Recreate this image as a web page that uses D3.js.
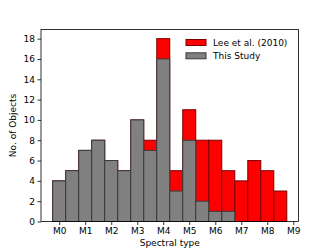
<!DOCTYPE html>
<html lang="en">
<head>
<meta charset="UTF-8">
<title>Spectral type histogram</title>
<script src="https://d3js.org/d3.v7.min.js"></script>
<style>
    body { margin: 0; background: #fff; }
    svg { font-family: "DejaVu Sans", sans-serif; }
</style>
</head>
<body>
<svg id="chart" width="332" height="249"></svg>
<script>
    // bin centres in subtypes (M0 = 0), width 0.5
    const bins = [0, 0.5, 1, 1.5, 2, 2.5, 3, 3.5, 4, 4.5, 5, 5.5, 6, 6.5, 7, 7.5, 8, 8.5];
    const thisStudy = [4, 5, 7, 8, 6, 5, 10, 7, 16, 3, 8, 2, 1, 1, 0, 0, 0, 0];
    const leeTotal  = [4, 5, 7, 8, 6, 5, 10, 8, 18, 5, 11, 8, 8, 5, 4, 6, 5, 3];
    const tickLabels = ['M0', 'M1', 'M2', 'M3', 'M4', 'M5', 'M6', 'M7', 'M8', 'M9'];
    const yTicks = [0, 2, 4, 6, 8, 10, 12, 14, 16, 18];

    const fs = 9;
    const margin = { top: 29.5, right: 33.5, bottom: 27.5, left: 41 },
        width = 332 - margin.left - margin.right,
        height = 249 - margin.top - margin.bottom;

    const svg = d3.select('#chart');
    const g = svg.append('g').attr('transform', `translate(${margin.left},${margin.top})`);

    const x = d3.scaleLinear().domain([-0.7, 9.2]).range([0, width]);
    const y = d3.scaleLinear().domain([0, 18.9]).range([height, 0]);

    function drawBars(values, fill, stroke) {
        g.append('g')
            .selectAll('rect')
            .data(bins.map((b, i) => ({ b: b, v: values[i] })).filter(d => d.v > 0))
            .join('rect')
            .attr('x', d => x(d.b - 0.25))
            .attr('width', d => x(d.b + 0.25) - x(d.b - 0.25))
            .attr('y', d => y(d.v))
            .attr('height', d => y(0) - y(d.v))
            .attr('fill', fill)
            .attr('stroke', stroke)
            .attr('stroke-width', 1);
    }

    drawBars(leeTotal, '#ff0000', '#7a0000');
    drawBars(thisStudy, '#808080', '#3a3a3a');

    // axes
    const xAxis = d3.axisBottom(x)
        .tickValues(d3.range(tickLabels.length))
        .tickFormat((d, i) => tickLabels[i])
        .tickSize(3.5).tickPadding(2.5);
    const yAxis = d3.axisLeft(y)
        .tickValues(yTicks)
        .tickSize(3.5).tickPadding(2.5);

    const gx = g.append('g').attr('transform', `translate(0,${height})`).call(xAxis);
    const gy = g.append('g').call(yAxis);
    [gx, gy].forEach(a => {
        a.select('.domain').remove();
        a.selectAll('text').attr('font-size', fs).attr('fill', '#000').attr('font-family', '"DejaVu Sans", sans-serif');
        a.selectAll('line').attr('stroke', '#000').attr('stroke-width', 0.8);
    });

    // frame
    g.append('rect')
        .attr('width', width).attr('height', height)
        .attr('fill', 'none').attr('stroke', '#000').attr('stroke-width', 0.8);

    // axis labels
    svg.append('text')
        .attr('x', margin.left + width / 2).attr('y', 246)
        .attr('text-anchor', 'middle').attr('font-size', fs)
        .text('Spectral type');
    svg.append('text')
        .attr('transform', `translate(16,${margin.top + height / 2}) rotate(-90)`)
        .attr('text-anchor', 'middle').attr('font-size', fs)
        .text('No. of Objects');

    // legend
    const legend = [
        { label: 'Lee et al. (2010)', fill: '#ff0000', stroke: '#7a0000' },
        { label: 'This Study', fill: '#808080', stroke: '#3a3a3a' }
    ];
    const lg = svg.append('g').attr('transform', 'translate(186,39.5)');
    lg.selectAll('rect')
        .data(legend)
        .join('rect')
        .attr('x', 0).attr('y', (d, i) => i * 13.3)
        .attr('width', 20).attr('height', 6)
        .attr('fill', d => d.fill).attr('stroke', d => d.stroke).attr('stroke-width', 1);
    lg.selectAll('text')
        .data(legend)
        .join('text')
        .attr('x', 27).attr('y', (d, i) => i * 13.3 + 6.5)
        .attr('font-size', fs)
        .text(d => d.label);
</script>
</body>
</html>
